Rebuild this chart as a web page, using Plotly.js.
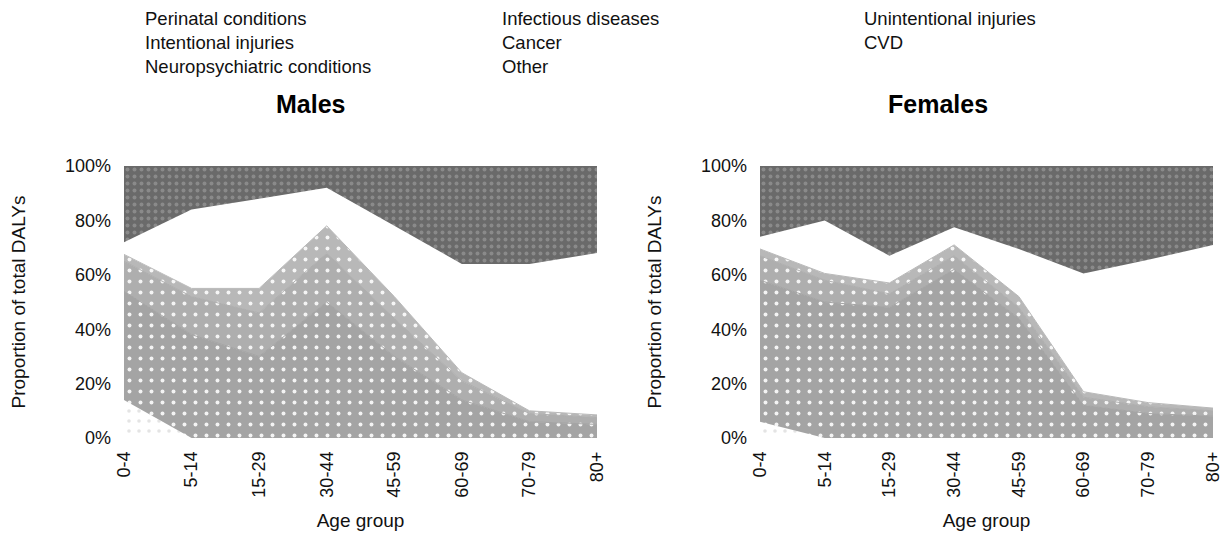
<!DOCTYPE html>
<html>
<head>
<meta charset="utf-8">
<script src="https://cdn.plot.ly/plotly-3.0.1.min.js"></script>
<style>html,body{margin:0;padding:0;background:#fff;}#chart{width:1224px;height:539px;}</style>
</head>
<body>
<div id="chart"></div>
<script>
// ---- data (percent of total DALYs, stacked bottom to top) ----
const ageGroups = ["0-4", "5-14", "15-29", "30-44", "45-59", "60-69", "70-79", "80+"];
const causes = ["Perinatal conditions", "Infectious diseases", "Unintentional injuries",
                "Intentional injuries", "Cancer", "CVD", "Neuropsychiatric conditions", "Other"];

const malesPerinatal      = [14, 0, 0, 0, 0, 0, 0, 0];
const malesInfectious     = [40, 38, 30, 50, 30, 14, 6, 5];
const malesUnintentional  = [11, 14, 16, 18, 14, 7, 3, 2.5];
const malesIntentional    = [2.5, 3, 9, 10, 8, 3, 1, 1];
const malesCancer         = [1, 2, 3, 4, 8, 12, 14, 13];
const malesCVD            = [0.5, 2, 4, 5, 12, 22, 33, 40];
const malesNeuro          = [3, 25, 26, 5, 6, 6, 7, 6.5];
const malesOther          = [28, 16, 12, 8, 22, 36, 36, 32];

const femalesPerinatal     = [6, 0, 0, 0, 0, 0, 0, 0];
const femalesInfectious    = [52, 50, 48, 62, 44, 12, 9, 8];
const femalesUnintentional = [9, 8, 5, 5, 4, 3, 2.5, 2];
const femalesIntentional   = [2.5, 2.5, 4, 4, 4, 2, 1.5, 1];
const femalesCancer        = [1, 1.5, 2, 3, 8, 12, 13, 12];
const femalesCVD           = [0.5, 1, 2, 1.5, 6, 26, 34, 42];
const femalesNeuro         = [3, 17, 6, 2, 3.5, 5.5, 5.5, 6];
const femalesOther         = [26, 20, 33, 22.5, 30.5, 39.5, 34.5, 29];

const panelTitles = ["Males", "Females"];
const yTickVals = [0, 20, 40, 60, 80, 100];
const yTickText = ["0%", "20%", "40%", "60%", "80%", "100%"];

// ---- styles per cause (scan rendering: light grey, white, dark grey) ----
const causeStyles = [
  {fill: "#ffffff", lw: 0, pattern: {shape: ".", fgcolor: "#e4e4e4", bgcolor: "#ffffff", size: 10, solidity: 0.1}},
  {fill: "#a4a4a4", lw: 1, pattern: {shape: ".", fgcolor: "#f4f4f4", bgcolor: "#a4a4a4", size: 11, solidity: 0.1}},
  {fill: "#aeaeae", lw: 1, pattern: {shape: ".", fgcolor: "#f4f4f4", bgcolor: "#aeaeae", size: 11, solidity: 0.1}},
  {fill: "#b8b8b8", lw: 1, pattern: {shape: ".", fgcolor: "#f6f6f6", bgcolor: "#b8b8b8", size: 11, solidity: 0.1}},
  {fill: "#ffffff", lw: 0, pattern: null},
  {fill: "#ffffff", lw: 0, pattern: null},
  {fill: "#ffffff", lw: 0, pattern: null},
  {fill: "#6a6a6a", lw: 0, pattern: {shape: ".", fgcolor: "#8a8a8a", bgcolor: "#6a6a6a", size: 7, solidity: 0.25}}
];

const maleSeries = [malesPerinatal, malesInfectious, malesUnintentional, malesIntentional,
                    malesCancer, malesCVD, malesNeuro, malesOther];
const femaleSeries = [femalesPerinatal, femalesInfectious, femalesUnintentional, femalesIntentional,
                      femalesCancer, femalesCVD, femalesNeuro, femalesOther];

const traces = [];
function addPanel(series, xa, ya, group) {
  series.forEach((vals, i) => {
    const st = causeStyles[i];
    const t = {
      type: "scatter", mode: "lines", x: ageGroups, y: vals,
      xaxis: xa, yaxis: ya, stackgroup: group, name: causes[i],
      line: {width: st.lw, color: st.fill}, fillcolor: st.fill,
      showlegend: false, hoverinfo: "skip"
    };
    if (st.pattern) t.fillpattern = st.pattern;
    traces.push(t);
  });
}
addPanel(maleSeries, "x", "y", "males");
addPanel(femaleSeries, "x2", "y2", "females");

const FONT = "Liberation Sans, Arial, sans-serif";
const W = 1224, H = 539;

function xAxis(domain) {
  return {
    domain: domain, type: "category", range: [0, 7], tickangle: -90,
    tickfont: {family: FONT, size: 18, color: "#111"}, showgrid: false, zeroline: false,
    showline: false, ticks: "", ticklabelstandoff: 9, fixedrange: true,
    title: {text: "Age group", font: {family: FONT, size: 19, color: "#111"}, standoff: 17}
  };
}
function yAxis(domain) {
  return {
    domain: domain, range: [0, 100], tickvals: yTickVals, ticktext: yTickText,
    tickfont: {family: FONT, size: 18, color: "#111"}, showgrid: false, zeroline: false,
    showline: false, ticks: "", ticklabelstandoff: 12, fixedrange: true,
    title: {text: "Proportion of total DALYs", font: {family: FONT, size: 19, color: "#111"}, standoff: 34}
  };
}

// legend labels laid out in three columns, as in the scanned original (no visible swatches)
const legendLayout = [
  {idx: 0, x: 143, y: 19}, {idx: 1, x: 500, y: 19}, {idx: 2, x: 862, y: 19},
  {idx: 3, x: 143, y: 42}, {idx: 4, x: 500, y: 42}, {idx: 5, x: 862, y: 42},
  {idx: 6, x: 143, y: 66}, {idx: 7, x: 500, y: 66}
];
const annotations = legendLayout.map(p => ({
  text: causes[p.idx], xref: "paper", yref: "paper", x: p.x / W, y: 1 - p.y / H,
  xanchor: "left", yanchor: "middle", showarrow: false,
  font: {family: FONT, size: 18.5, color: "#111"}
}));
annotations.push(
  {text: "<b>" + panelTitles[0] + "</b>", xref: "paper", yref: "paper", x: 310 / W, y: 1 - 104 / H,
   xanchor: "center", yanchor: "middle", showarrow: false, font: {family: FONT, size: 25, color: "#000"}},
  {text: "<b>" + panelTitles[1] + "</b>", xref: "paper", yref: "paper", x: 938 / W, y: 1 - 104 / H,
   xanchor: "center", yanchor: "middle", showarrow: false, font: {family: FONT, size: 25, color: "#000"}}
);

const yDom = [(H - 438) / H, (H - 166) / H];
const layout = {
  width: W, height: H, margin: {l: 0, r: 0, t: 0, b: 0, autoexpand: false},
  paper_bgcolor: "#fff", plot_bgcolor: "rgba(0,0,0,0)",
  font: {family: FONT, color: "#111"},
  xaxis: Object.assign(xAxis([124 / W, 597 / W]), {anchor: "y"}),
  yaxis: Object.assign(yAxis(yDom), {anchor: "x"}),
  xaxis2: Object.assign(xAxis([760 / W, 1213 / W]), {anchor: "y2"}),
  yaxis2: Object.assign(yAxis(yDom), {anchor: "x2"}),
  annotations: annotations,
  showlegend: false
};

Plotly.newPlot("chart", traces, layout, {displayModeBar: false, staticPlot: true});
</script>
</body>
</html>
